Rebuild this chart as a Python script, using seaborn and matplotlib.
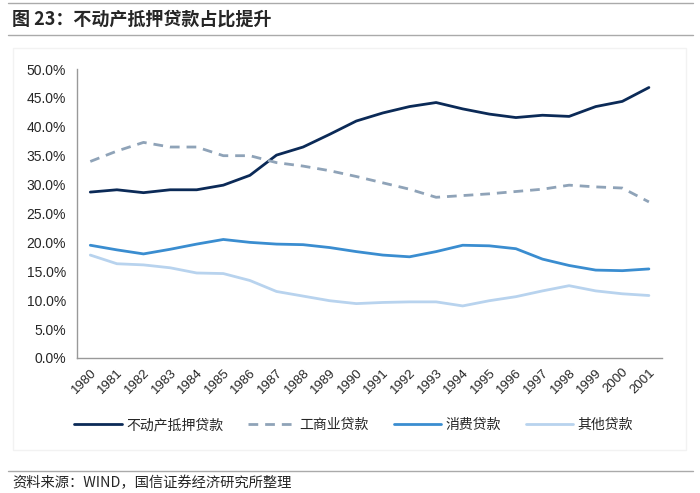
import pandas as pd
import matplotlib.pyplot as plt
import seaborn as sns
from matplotlib.ticker import FuncFormatter, FixedLocator
from matplotlib.lines import Line2D
from matplotlib.patches import Rectangle

# ─────────────────────────────
# DATA
# ─────────────────────────────
years = list(range(1980, 2002))

mortgage   = [28.7, 29.1, 28.6, 29.1, 29.1, 29.9, 31.6, 35.1, 36.5, 38.7, 41.0,
              42.4, 43.5, 44.2, 43.1, 42.2, 41.6, 42.0, 41.8, 43.5, 44.4, 46.8]
commercial = [34.0, 35.8, 37.3, 36.5, 36.5, 35.0, 35.0, 33.8, 33.2, 32.4, 31.4,
              30.3, 29.2, 27.8, 28.1, 28.4, 28.8, 29.2, 29.9, 29.6, 29.4, 27.0]
consumer   = [19.5, 18.7, 18.0, 18.8, 19.7, 20.5, 20.0, 19.7, 19.6, 19.1, 18.4,
              17.8, 17.5, 18.4, 19.5, 19.4, 18.9, 17.1, 16.0, 15.2, 15.1, 15.4]
other      = [17.8, 16.3, 16.1, 15.6, 14.7, 14.6, 13.4, 11.5, 10.7, 9.9, 9.4,
              9.6, 9.7, 9.7, 9.0, 9.9, 10.6, 11.6, 12.5, 11.6, 11.1, 10.8]

series_names = ["不动产抵押贷款", "工商业贷款", "消费贷款", "其他贷款"]
colors = ["#0b2a57", "#8fa3b8", "#3a8dd0", "#b8d3ee"]

df = pd.DataFrame({
    "year": years * 4,
    "value": mortgage + commercial + consumer + other,
    "series": sum([[n] * len(years) for n in series_names], []),
})

# ─────────────────────────────
# PLOT
# ─────────────────────────────
sns.set_style("white")
plt.rcParams["font.family"] = ["Liberation Sans", "Noto Sans CJK SC", "DejaVu Sans"]
cjk = ["Noto Sans CJK SC", "DejaVu Sans"]

fig = plt.figure(figsize=(7, 4.93), dpi=100)
ax = fig.add_axes([0.11, 0.274, 0.836, 0.586])

sns.lineplot(data=df, x="year", y="value", hue="series", style="series",
             hue_order=series_names, style_order=series_names,
             palette=dict(zip(series_names, colors)),
             dashes={series_names[0]: "", series_names[1]: (3.5, 2.5),
                     series_names[2]: "", series_names[3]: ""},
             linewidth=2, legend=False, ax=ax)

ax.set_xlim(1979.5, 2001.5)
ax.set_ylim(0, 50)
ax.set_yticks(range(0, 51, 5))
ax.yaxis.set_major_formatter(FuncFormatter(lambda v, p: f"{v:.1f}%"))
ax.set_xticks(years)
ax.set_xticklabels([str(y) for y in years], rotation=45, ha="right",
                   rotation_mode="anchor", fontsize=9.5)
ax.xaxis.set_minor_locator(FixedLocator([y - 0.5 for y in years] + [2001.5]))
ax.tick_params(axis="x", which="major", length=0, pad=6)
ax.tick_params(axis="x", which="minor", length=4, color="#999999", width=1)
ax.tick_params(axis="y", length=4, color="#999999", labelsize=10, pad=4)
ax.set_xlabel("")
ax.set_ylabel("")
for s in ["top", "right"]:
    ax.spines[s].set_visible(False)
for s in ["left", "bottom"]:
    ax.spines[s].set_color("#999999")
    ax.spines[s].set_linewidth(1)

# legend
handles = [Line2D([], [], color=colors[0], lw=2),
           Line2D([], [], color=colors[1], lw=2, dashes=(3.5, 2.5)),
           Line2D([], [], color=colors[2], lw=2),
           Line2D([], [], color=colors[3], lw=2)]
fig.legend(handles, series_names, loc="center", bbox_to_anchor=(0.505, 0.138),
           ncol=4, frameon=False, handlelength=3.4, columnspacing=1.8,
           handletextpad=0.3, prop={"family": cjk, "size": 10})

# header / footer
fig.add_artist(Line2D([0.012, 0.99], [0.994, 0.994], color="#aaaaaa", lw=1))
fig.add_artist(Line2D([0.012, 0.99], [0.929, 0.929], color="#aaaaaa", lw=1))
fig.add_artist(Line2D([0.012, 0.99], [0.045, 0.045], color="#aaaaaa", lw=1))
fig.add_artist(Rectangle((0.018, 0.088), 0.962, 0.815, transform=fig.transFigure,
                         fill=False, edgecolor="#f2f2f2", lw=1))
fig.text(0.017, 0.962, "图 23：不动产抵押贷款占比提升", fontsize=13,
         fontweight="bold", va="center", ha="left", family=cjk)
fig.text(0.017, 0.02, "资料来源：WIND，国信证券经济研究所整理", fontsize=10.3,
         va="center", ha="left", family=cjk)

fig.savefig("out.png", dpi=100)
